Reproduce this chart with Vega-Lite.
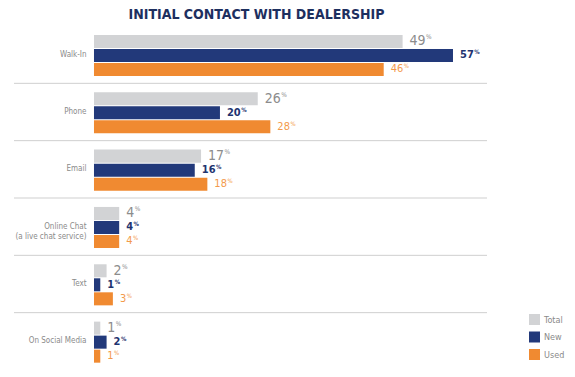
{
  "$schema": "https://vega.github.io/schema/vega-lite/v6.json",
  "autosize": {"type": "none"},
  "width": 473,
  "height": 344,
  "padding": {"left": 14, "top": 26, "right": 88, "bottom": 7},
  "background": "white",
  "view": {"stroke": null},
  "title": {"text": "INITIAL CONTACT WITH DEALERSHIP", "font": "DejaVu Sans Condensed", "fontSize": 14, "fontWeight": "bold", "color": "#1d2f5f", "anchor": "middle", "dx": 6, "offset": 4},
  "data": {"values": [
    {"method": "Walk-In", "series": "Total", "pct": 49},
    {"method": "Walk-In", "series": "New", "pct": 57},
    {"method": "Walk-In", "series": "Used", "pct": 46},
    {"method": "Phone", "series": "Total", "pct": 26},
    {"method": "Phone", "series": "New", "pct": 20},
    {"method": "Phone", "series": "Used", "pct": 28},
    {"method": "Email", "series": "Total", "pct": 17},
    {"method": "Email", "series": "New", "pct": 16},
    {"method": "Email", "series": "Used", "pct": 18},
    {"method": "Online Chat (a live chat service)", "series": "Total", "pct": 4},
    {"method": "Online Chat (a live chat service)", "series": "New", "pct": 4},
    {"method": "Online Chat (a live chat service)", "series": "Used", "pct": 4},
    {"method": "Text", "series": "Total", "pct": 2},
    {"method": "Text", "series": "New", "pct": 1},
    {"method": "Text", "series": "Used", "pct": 3},
    {"method": "On Social Media", "series": "Total", "pct": 1},
    {"method": "On Social Media", "series": "New", "pct": 2},
    {"method": "On Social Media", "series": "Used", "pct": 1}
  ]},
  "layer": [
    {
      "transform": [{"filter": "datum.series == 'Total' && datum.method != 'On Social Media'"}],
      "mark": {"type": "rule", "color": "#cfcfcf", "strokeWidth": 1},
      "encoding": {
        "y": {"field": "method", "type": "nominal", "sort": ["Walk-In", "Phone", "Email", "Online Chat (a live chat service)", "Text", "On Social Media"], "bandPosition": 1,
          "scale": {"paddingInner": 0, "paddingOuter": 0},
          "axis": {"title": null, "domain": false, "ticks": false, "grid": false, "bandPosition": 0.5, "labelPadding": -72, "labelAlign": "right", "labelFont": "DejaVu Sans Condensed", "labelFontSize": 8, "labelColor": "#8a8a8a", "labelLineHeight": 10,
            "labelExpr": "datum.value == 'Online Chat (a live chat service)' ? ['Online Chat', '(a live chat service)'] : datum.value"}}
      }
    },
    {
      "encoding": {
        "y": {"field": "method", "type": "nominal", "sort": ["Walk-In", "Phone", "Email", "Online Chat (a live chat service)", "Text", "On Social Media"],
          "scale": {"paddingInner": 0, "paddingOuter": 0},
          "axis": {"title": null, "domain": false, "ticks": false, "grid": false, "bandPosition": 0.5, "labelPadding": -72, "labelAlign": "right", "labelFont": "DejaVu Sans Condensed", "labelFontSize": 8, "labelColor": "#8a8a8a", "labelLineHeight": 10,
            "labelExpr": "datum.value == 'Online Chat (a live chat service)' ? ['Online Chat', '(a live chat service)'] : datum.value"}},
        "x": {"field": "pct", "type": "quantitative", "scale": {"domain": [-12.7, 62.4], "nice": false, "zero": false}, "axis": null},
        "yOffset": {"field": "series", "type": "nominal", "sort": ["Total", "New", "Used"], "scale": {"paddingInner": 0.07, "paddingOuter": 0.58, "align": 0.55}}
      },
      "layer": [
        {
          "mark": {"type": "bar"},
          "encoding": {
            "x2": {"datum": 0},
            "color": {"field": "series", "type": "nominal", "scale": {"domain": ["Total", "New", "Used"], "range": ["#d2d3d5", "#22397a", "#f08a31"]},
              "legend": {"title": null, "orient": "none", "legendX": 515, "legendY": 288, "symbolType": "square", "symbolSize": 121, "symbolStrokeWidth": 0, "symbolOpacity": 1, "labelFont": "DejaVu Sans Condensed", "labelFontSize": 9, "labelColor": "#8a8a8a", "labelOffset": 4, "rowPadding": 6.5, "padding": 0}}
          }
        },
        {"transform": [{"filter": "datum.series == 'Total'"}], "mark": {"type": "text", "align": "left", "baseline": "middle", "dx": 7, "font": "DejaVu Sans Condensed", "fontSize": 14, "color": "#8c8c8c"}, "encoding": {"text": {"field": "pct", "type": "quantitative"}}},
        {"transform": [{"filter": "datum.series == 'Total' && datum.pct >= 10"}], "mark": {"type": "text", "align": "left", "baseline": "middle", "dx": 23.5, "dy": -4, "font": "DejaVu Sans Condensed", "fontSize": 6.5, "color": "#8c8c8c"}, "encoding": {"text": {"value": "%"}}},
        {"transform": [{"filter": "datum.series == 'Total' && datum.pct < 10"}], "mark": {"type": "text", "align": "left", "baseline": "middle", "dx": 15.5, "dy": -4, "font": "DejaVu Sans Condensed", "fontSize": 6.5, "color": "#8c8c8c"}, "encoding": {"text": {"value": "%"}}},
        {"transform": [{"filter": "datum.series == 'New'"}], "mark": {"type": "text", "align": "left", "baseline": "middle", "dx": 7, "font": "DejaVu Sans Condensed", "fontSize": 11, "fontWeight": "bold", "color": "#1f3470"}, "encoding": {"text": {"field": "pct", "type": "quantitative"}}},
        {"transform": [{"filter": "datum.series == 'New' && datum.pct >= 10"}], "mark": {"type": "text", "align": "left", "baseline": "middle", "dx": 21.3, "dy": -3, "font": "DejaVu Sans Condensed", "fontSize": 6, "fontWeight": "bold", "color": "#1f3470"}, "encoding": {"text": {"value": "%"}}},
        {"transform": [{"filter": "datum.series == 'New' && datum.pct < 10"}], "mark": {"type": "text", "align": "left", "baseline": "middle", "dx": 14.4, "dy": -3, "font": "DejaVu Sans Condensed", "fontSize": 6, "fontWeight": "bold", "color": "#1f3470"}, "encoding": {"text": {"value": "%"}}},
        {"transform": [{"filter": "datum.series == 'Used'"}], "mark": {"type": "text", "align": "left", "baseline": "middle", "dx": 7, "font": "DejaVu Sans Condensed", "fontSize": 11, "color": "#f39a4b"}, "encoding": {"text": {"field": "pct", "type": "quantitative"}}},
        {"transform": [{"filter": "datum.series == 'Used' && datum.pct >= 10"}], "mark": {"type": "text", "align": "left", "baseline": "middle", "dx": 20.1, "dy": -3, "font": "DejaVu Sans Condensed", "fontSize": 6, "color": "#f39a4b"}, "encoding": {"text": {"value": "%"}}},
        {"transform": [{"filter": "datum.series == 'Used' && datum.pct < 10"}], "mark": {"type": "text", "align": "left", "baseline": "middle", "dx": 13.8, "dy": -3, "font": "DejaVu Sans Condensed", "fontSize": 6, "color": "#f39a4b"}, "encoding": {"text": {"value": "%"}}}
      ]
    }
  ]
}
